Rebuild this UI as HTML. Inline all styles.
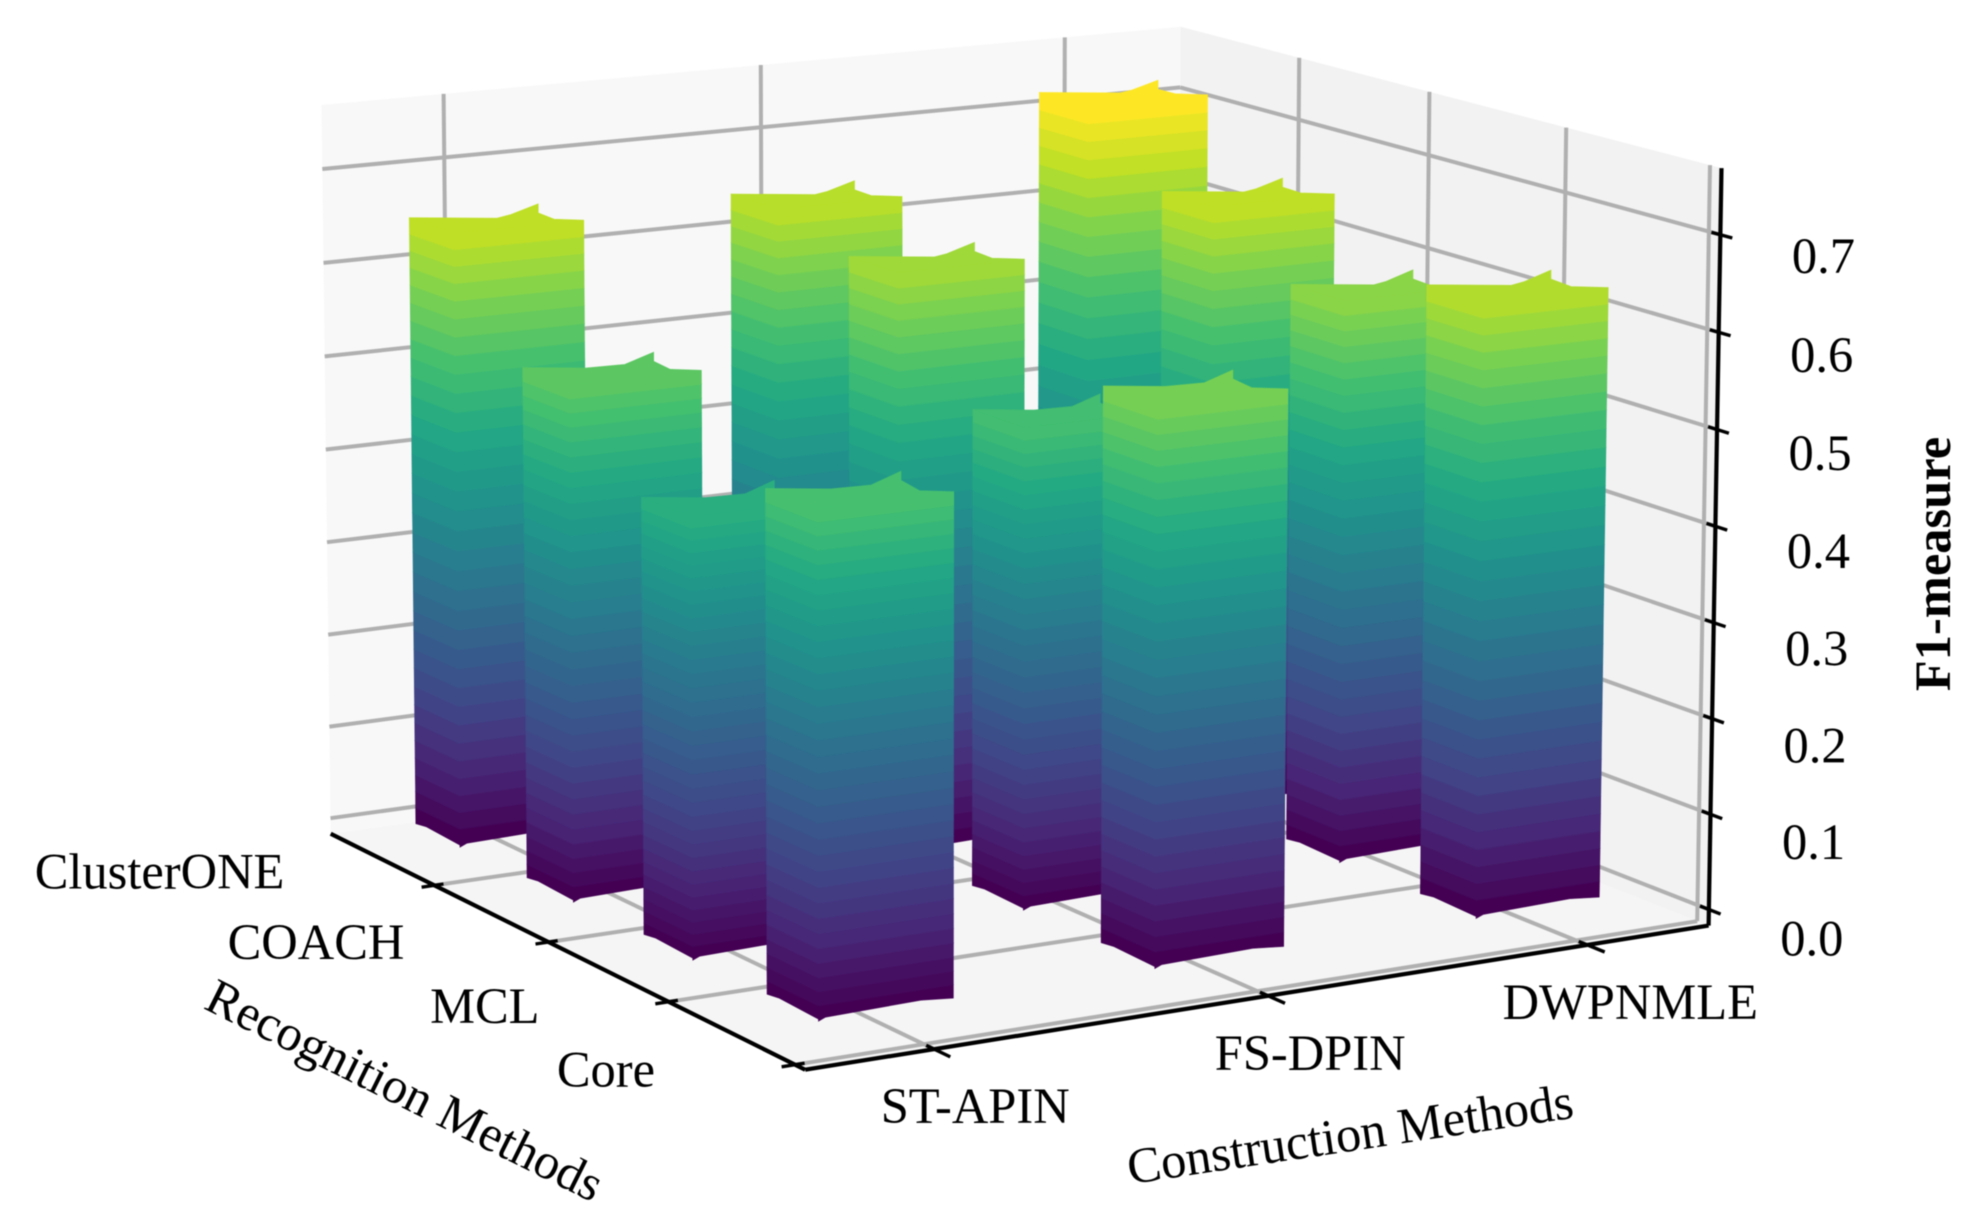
<!DOCTYPE html>
<html lang="en">
<head>
<meta charset="utf-8">
<title>F1-measure by construction and recognition methods</title>
<style>
html,body{margin:0;padding:0;background:#fff;}
svg{display:block;filter:blur(0.5px);}
text{font-family:"Liberation Serif","Times New Roman",serif;fill:#000;font-size:50.5px;}
</style>
</head>
<body>
<svg id="chart" xmlns="http://www.w3.org/2000/svg" width="1981" height="1217" viewBox="0 0 1981 1217">
  <g id="panes"></g>
  <g id="grid"></g>
  <g id="axes"></g>
  <g id="bars"></g>
  <g id="labels"></g>
  <text text-anchor="middle" dominant-baseline="central" transform="translate(1350 1134) rotate(-8.5)">Construction Methods</text>
  <text text-anchor="middle" dominant-baseline="central" transform="translate(405 1090) rotate(26.5)">Recognition Methods</text>
  <text font-weight="bold" text-anchor="middle" dominant-baseline="central" transform="translate(1933 564) rotate(-90)">F1-measure</text>
</svg>
<script>
const constructionMethods = ["ST-APIN", "FS-DPIN", "DWPNMLE"];
const recognitionMethods = ["ClusterONE", "COACH", "MCL", "Core"];
const f1ClusterONE = [0.6525, 0.6435, 0.722];
const f1COACH = [0.5375, 0.6175, 0.6525];
const f1MCL = [0.4505, 0.5005, 0.5945];
const f1Core = [0.5075, 0.5705, 0.6365];
const zTickValues = [0, 0.1, 0.2, 0.3, 0.4, 0.5, 0.6, 0.7];
const zTickLabels = ["0.0", "0.1", "0.2", "0.3", "0.4", "0.5", "0.6", "0.7"];

const f1Rows = [f1ClusterONE, f1COACH, f1MCL, f1Core];

/* axis limits, in data units */
const xMin = -0.374, xMax = 2.392;
const yMin = -0.954, yMax = 3.078;
const zMin = -0.017, zMax = 0.768;
const barLeft = 0.195, barRight = 0.202, barBack = 0.212, barFront = 0.19, rowOffset = -0.486, colStretch = 1.004;
const sliceCount = 33, sliceWarp = 0.133;

const xAxis = x => (x - xMin) / (xMax - xMin);
const yAxis = y => (y - yMin) / (yMax - yMin);
const zAxis = z => (z - zMin) / (zMax - zMin);

/* camera calibration: box corners / tick anchors (u,v,w) -> screen */
const cameraCalibration = [
  [0,1,0,805,1068],[1,1,0,1709,927],[0,0,0,332,835],[1,0,0,1176,712],
  [0,0,1,322,103],[1,0,1,1178,27],[1,1,1,1719,167],
  [0.1351,1,0,934,1048],[0.4966,1,0,1269,994],[0.858,1,0,1588,945],
  [0,0.2366,0,434,887],[0,0.486,0,548,943],[0,0.73,0,666,1001],[0,0.9796,0,794,1063],
  [1,1,0.0217,1710,913],[1,1,0.5312,1714,529],[1,1,0.9134,1718,232],
  [1,0,0.9134,1178,88],[1,0,0.0217,1176,699],[0,0,0.0217,332,822],[0,0,0.9134,322,168],
  [0.4966,0,1,760,66],[1,0.457,1,1425,91]
];

function solveCamera(points) {
  const n = 11, M = [], r = [];
  for (let i = 0; i < n; i++) { M.push(new Array(n).fill(0)); r.push(0); }
  function addRow(a, b) {
    for (let i = 0; i < n; i++) {
      for (let j = 0; j < n; j++) M[i][j] += a[i] * a[j];
      r[i] += a[i] * b;
    }
  }
  points.forEach(p => {
    const U = p[0], V = p[1], W = p[2], sx = p[3] / 1000, sy = p[4] / 1000;
    addRow([U,V,W,1,0,0,0,0,-sx*U,-sx*V,-sx*W], sx);
    addRow([0,0,0,0,U,V,W,1,-sy*U,-sy*V,-sy*W], sy);
  });
  for (let c = 0; c < n; c++) {
    let piv = c;
    for (let k = c + 1; k < n; k++) if (Math.abs(M[k][c]) > Math.abs(M[piv][c])) piv = k;
    [M[c], M[piv]] = [M[piv], M[c]];
    [r[c], r[piv]] = [r[piv], r[c]];
    for (let k = c + 1; k < n; k++) {
      const f = M[k][c] / M[c][c];
      for (let j = c; j < n; j++) M[k][j] -= f * M[c][j];
      r[k] -= f * r[c];
    }
  }
  const s = new Array(n).fill(0);
  for (let i = n - 1; i >= 0; i--) {
    let t = r[i];
    for (let j = i + 1; j < n; j++) t -= M[i][j] * s[j];
    s[i] = t / M[i][i];
  }
  return s;
}
const cam = solveCamera(cameraCalibration);

function project(u, v, w) {
  const d = cam[8]*u + cam[9]*v + cam[10]*w + 1;
  return {
    x: 1000 * (cam[0]*u + cam[1]*v + cam[2]*w + cam[3]) / d,
    y: 1000 * (cam[4]*u + cam[5]*v + cam[6]*w + cam[7]) / d
  };
}

/* viridis colormap */
const viridisStops = ["#440154","#482475","#414487","#355f8d","#2a788e","#21918c","#22a884","#44bf70","#7ad151","#bddf26","#fde725"];
function hexRgb(h) { return [1,3,5].map(i => parseInt(h.substr(i,2),16)); }
function viridis(t) {
  t = Math.max(0, Math.min(1, t));
  const pos = t * (viridisStops.length - 1), i = Math.min(Math.floor(pos), viridisStops.length - 2), f = pos - i;
  const a = hexRgb(viridisStops[i]), b = hexRgb(viridisStops[i+1]);
  return "rgb(" + a.map((c,k) => Math.round(c + (b[k]-c)*f)).join(",") + ")";
}

const NS = "http://www.w3.org/2000/svg";
function svgEl(tag, attrs, parent) {
  const el = document.createElementNS(NS, tag);
  Object.keys(attrs).forEach(k => el.setAttribute(k, attrs[k]));
  parent.appendChild(el);
  return el;
}
const ptsStr = pts => pts.map(p => p.x.toFixed(1) + "," + p.y.toFixed(1)).join(" ");
function seg(a, b, stroke, width, parent) {
  return svgEl("line", {x1:a.x.toFixed(1), y1:a.y.toFixed(1), x2:b.x.toFixed(1), y2:b.y.toFixed(1), stroke:stroke, "stroke-width":width}, parent);
}
const lerp = (a, b, t) => ({x:a.x+(b.x-a.x)*t, y:a.y+(b.y-a.y)*t});

const panes = document.getElementById("panes");
const grid = document.getElementById("grid");
const axes = document.getElementById("axes");
const bars = document.getElementById("bars");
const labels = document.getElementById("labels");

/* panes */
const C0 = project(0,0,0), C1 = project(0,0,1), D0 = project(1,0,0), D1 = project(1,0,1);
const B0 = project(1,1,0), B1 = project(1,1,1), A0 = project(0,1,0);
const backPane = svgEl("polygon", {points: ptsStr([C0,C1,D1,D0]), fill:"#f8f8f8"}, panes);


const rightPane = svgEl("polygon", {points: ptsStr([D0,D1,B1,B0]), fill:"#f2f2f2"}, panes);


const floorPane = svgEl("polygon", {points: ptsStr([C0,A0,B0,D0]), fill:"#f5f5f5"}, panes);



/* grid */
const gridColor = "#b0b0b0", gridWidth = 4;
zTickValues.forEach(z => {
  const w = zAxis(z);
  const a = seg(project(0,0,w), project(1,0,w), gridColor, gridWidth, grid);
  
  
  const b = seg(project(1,0,w), project(1,1,w), gridColor, gridWidth, grid);
  
  
});
constructionMethods.forEach((_, i) => {
  const u = xAxis(i);
  const a = seg(project(u,0,1), project(u,0,0), gridColor, gridWidth, grid);
  
  
  const b = seg(project(u,0,0), project(u,1,0), gridColor, gridWidth, grid);
  
  
});
recognitionMethods.forEach((_, j) => {
  const v = yAxis(j);
  const a = seg(project(1,v,1), project(1,v,0), gridColor, gridWidth, grid);
  
  
  const b = seg(project(1,v,0), project(0,v,0), gridColor, gridWidth, grid);
  
  
});

/* axis lines */
const xLine = seg(A0, B0, "#000", 4.2, axes);


const yLine = seg(C0, A0, "#000", 4.2, axes);


const zLine = seg(B0, B1, "#000", 4.2, axes);



/* ticks and tick labels */
function addLabel(x, y, anchor) {
  return svgEl("text", {x:x.toFixed(1), y:y.toFixed(1), "text-anchor":anchor, "dominant-baseline":"central"}, labels);
}
const yLabelDx = [-150, -144, -129, -140];
const yLabelDy = [-14, 0, 4, 5];

constructionMethods.forEach((name, i) => {
  const u = xAxis(i);
  const t = seg(project(u,0.985,0), project(u,1.03,0), "#000", 3.4, axes);
  
  
  const p = project(u,1,0);
  const l = addLabel(p.x + 41 + i, p.y + 57, "middle");
  l.textContent = name;
  
  
});
recognitionMethods.forEach((name, j) => {
  const v = yAxis(j);
  const t = seg(project(-0.014,v,0), project(0.01,v,0), "#000", 3.4, axes);
  
  
  const p = project(0,v,0);
  const l = addLabel(p.x + yLabelDx[j], p.y + yLabelDy[j], "end");
  l.textContent = name;
  
  
});
zTickValues.forEach((z, k) => {
  const w = zAxis(z);
  const t = seg(project(1,0.985,w), project(1,1.02,w), "#000", 3.4, axes);
  
  
  const p = project(1,1,w);
  const l = addLabel(p.x + 103, p.y + 29 - 7.5 * z / 0.7, "middle");
  l.textContent = zTickLabels[k];
  
  
});

/* bars: back rows first */
const maxF1 = Math.max.apply(null, f1Rows.map(r => Math.max.apply(null, r)));
/* slice boundary as a fraction of bar height: bands are slimmer at both ends */
const sliceLevel = t => t * (1 - sliceWarp) + sliceWarp * (1 - Math.cos(Math.PI * t)) / 2;

function drawBar(col, row, value) {
  const g = svgEl("g", {}, bars);
  
  
  const center = col * colStretch;
  const u0 = xAxis(center - barLeft), u1 = xAxis(center + barRight);
  const v0 = yAxis(row + rowOffset - barBack), v1 = yAxis(row + rowOffset + barFront);
  const corners = z => {
    const w = zAxis(z);
    return {L: project(u0,v0,w), F: project(u0,v1,w), R: project(u1,v1,w), B: project(u1,v0,w)};
  };
  for (let i = 0; i < sliceCount; i++) {
    const zLo = value * sliceLevel(i / sliceCount), zHi = value * sliceLevel((i + 1) / sliceCount);
    const lo = corners(zLo), hi = corners(zHi);
    const color = viridis((value * i / (sliceCount - 1)) / maxF1);
    let outline;
    if (i === 0) {
      const a = lerp(lo.L, lo.F, 0.24);
      const b = lerp(lo.F, lo.R, 0.76);
      outline = [lo.L, {x:a.x, y:a.y - 2}, lo.F, {x:lo.F.x, y:lo.F.y + 2}, {x:lo.F.x + 7, y:lo.F.y - 2}, {x:b.x, y:b.y - 3}, lo.R, hi.R, hi.F, hi.L];
    } else {
      outline = [lo.L, lo.F, lo.R, hi.R, hi.F, hi.L];
    }
    const slice = svgEl("polygon", {points: ptsStr(outline), fill: color, stroke: color, "stroke-width": 0.7}, g);
    
    
  }
  const top = corners(value);
  const frac = value < 0.58 ? 0.48 : 0.68;
  const P1 = {x: top.L.x + (top.B.x - top.L.x) * frac, y: top.L.y + 0.5};
  const tip = {x: top.B.x, y: top.B.y - 1};
  const P2 = {x: top.L.x + (top.B.x - top.L.x) * 0.78, y: top.L.y + (tip.y - top.L.y) * 0.2};
  const notch = {x: tip.x, y: tip.y + 9};
  const P3 = {x: tip.x + (top.R.x - tip.x) * 0.35, y: top.R.y - 1};
  const topColor = viridis(value / maxF1);
  const cap = svgEl("polygon", {points: ptsStr([top.L, P1, P2, tip, notch, P3, top.R, top.F]), fill: topColor, stroke: topColor, "stroke-width": 0.7}, g);
  
  
}

f1Rows.forEach((values, row) => {
  values.forEach((value, col) => drawBar(col, row, value));
});
</script>
</body>
</html>
